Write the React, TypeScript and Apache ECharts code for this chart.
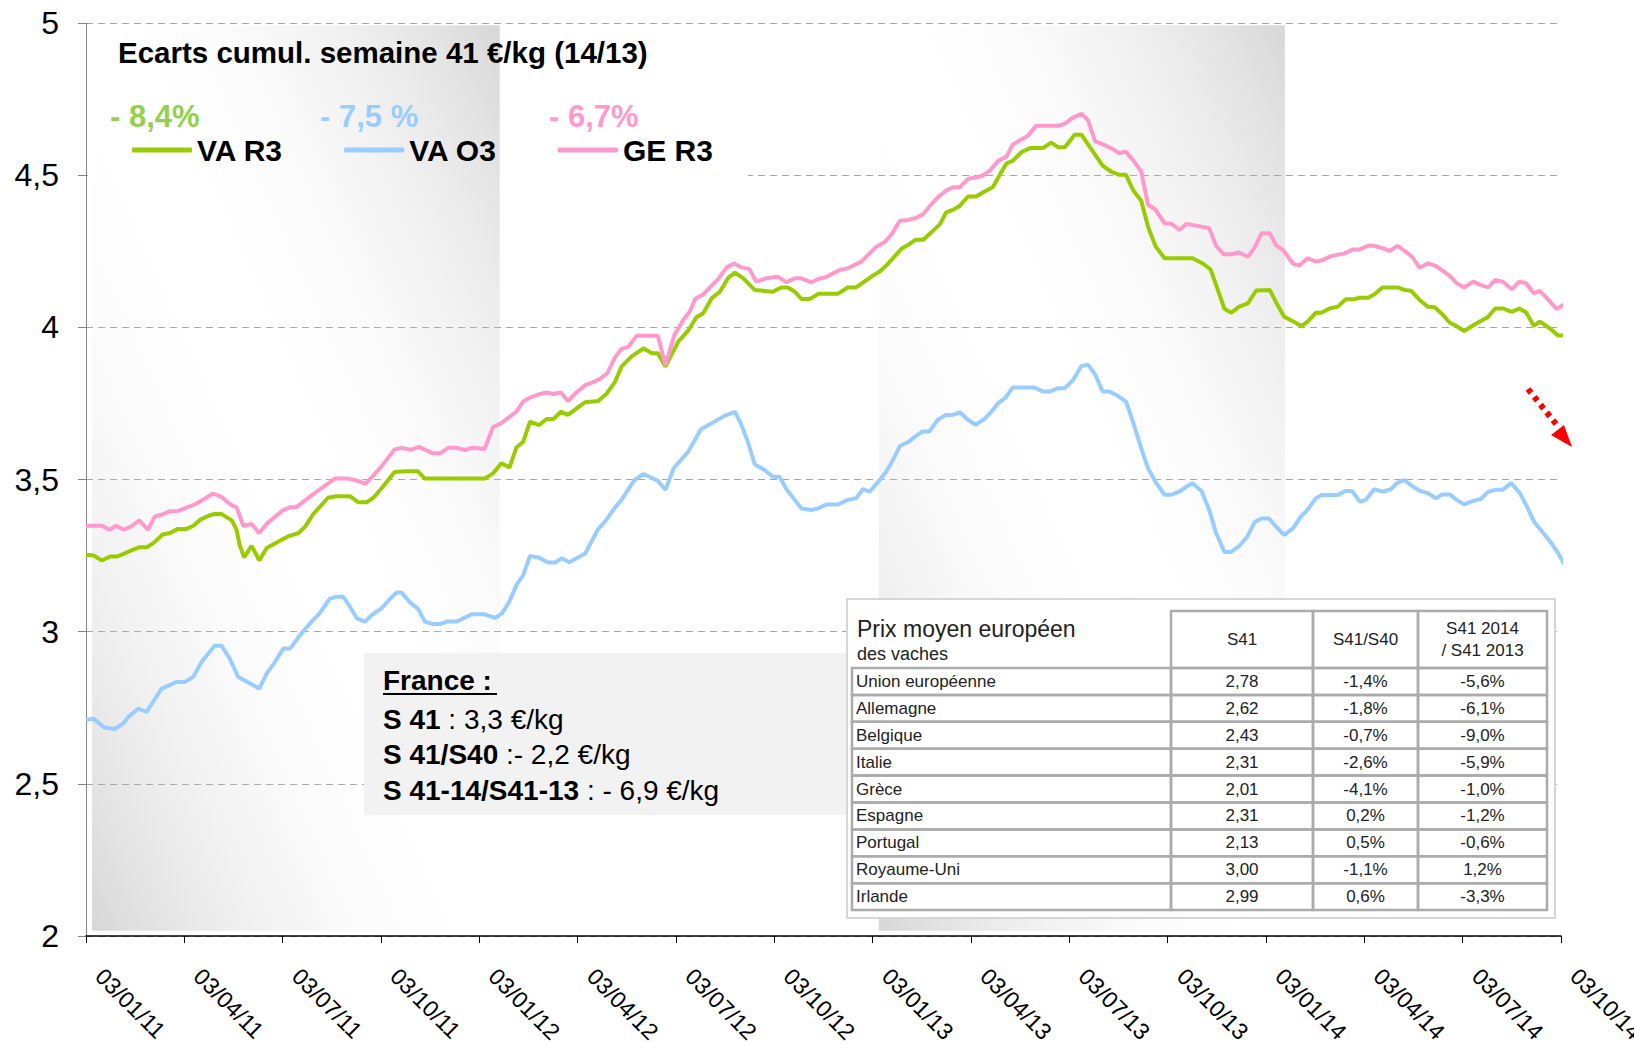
import React, { useEffect, useRef } from "react";
import * as echarts from "echarts";

// ---------- data ----------
const xTickLabels = ["03/01/11","03/04/11","03/07/11","03/10/11","03/01/12","03/04/12","03/07/12","03/10/12","03/01/13","03/04/13","03/07/13","03/10/13","03/01/14","03/04/14","03/07/14","03/10/14"];
const weeksPerTick = 13;
const yTicks = { min: 2, max: 5, step: 0.5 };

const seriesNames = ["VA R3", "VA O3", "GE R3"];
const seriesColors = ["#99CC00", "#99CCFF", "#FF99CC"];
const pctLabels = ["- 8,4%", "- 7,5 %", "- 6,7%"];
const pctColors = ["#92D050", "#99CCFF", "#FF99CC"];

// [week index since 03/01/11, €/kg]
const vaR3: [number, number][] = [[0,3.253],[1,3.25],[2.1,3.234],[3.2,3.247],[4.1,3.247],[4.9,3.255],[6,3.267],[7,3.277],[8,3.277],[8.9,3.291],[10.1,3.319],[11.1,3.324],[12.1,3.337],[13.2,3.337],[14.2,3.348],[15.1,3.368],[16.2,3.381],[17,3.387],[17.9,3.387],[19.3,3.365],[19.9,3.335],[20.3,3.286],[20.9,3.244],[21.9,3.282],[22.9,3.234],[23.9,3.275],[25.2,3.293],[26.7,3.313],[28.1,3.324],[29,3.346],[30,3.385],[32,3.44],[33.1,3.445],[34.9,3.445],[36,3.425],[37.1,3.425],[38,3.44],[39.3,3.478],[40.8,3.525],[42.2,3.527],[43.9,3.527],[44.8,3.503],[52.7,3.503],[53.8,3.52],[54.9,3.553],[56,3.54],[56.9,3.605],[57.8,3.624],[58.7,3.69],[59.9,3.679],[60.9,3.699],[61.8,3.699],[62.8,3.723],[63.7,3.712],[66,3.754],[67.7,3.758],[68.8,3.781],[69.9,3.819],[70.8,3.871],[72.1,3.904],[73.7,3.931],[74.8,3.915],[75.6,3.915],[76.6,3.871],[78.3,3.953],[79.6,3.989],[80.7,4.033],[81.6,4.046],[82.7,4.095],[83.8,4.117],[84.9,4.163],[85.8,4.18],[86.9,4.161],[88.4,4.123],[90.8,4.117],[91.9,4.131],[92.8,4.131],[93.7,4.117],[94.6,4.093],[95.7,4.093],[96.8,4.11],[99.4,4.11],[100.7,4.131],[101.8,4.131],[103.8,4.166],[104.9,4.183],[105.8,4.203],[106.9,4.233],[107.8,4.258],[108.7,4.271],[109.7,4.288],[110.7,4.288],[111.8,4.313],[112.9,4.339],[113.7,4.378],[114.6,4.386],[115.5,4.399],[116.6,4.43],[117.7,4.43],[118.8,4.446],[119.9,4.461],[120.8,4.501],[121.7,4.539],[122.5,4.547],[123.7,4.576],[124.8,4.589],[126.5,4.589],[127.6,4.607],[128.5,4.592],[129.4,4.592],[130.7,4.633],[131.6,4.633],[133.1,4.578],[134.4,4.531],[135.5,4.512],[136.6,4.501],[137.5,4.501],[138.4,4.452],[139.5,4.416],[140.4,4.331],[141.4,4.266],[142.6,4.227],[146.3,4.227],[147.7,4.209],[148.7,4.189],[149.7,4.118],[150.5,4.061],[151.4,4.048],[152.4,4.067],[153.6,4.079],[154.7,4.121],[156.5,4.123],[157.4,4.079],[158.4,4.035],[159.6,4.019],[160.7,4.004],[161.5,4.019],[162.6,4.048],[163.3,4.048],[164.4,4.062],[165.5,4.068],[166.5,4.092],[167.5,4.092],[168.4,4.097],[169.5,4.097],[170.3,4.108],[171.4,4.131],[173.4,4.131],[174.3,4.123],[175.2,4.12],[176.3,4.09],[177.4,4.068],[178.3,4.066],[179.3,4.043],[180.3,4.015],[181.2,4.004],[182.2,3.988],[183.3,4.005],[184.4,4.021],[185.3,4.033],[186.3,4.062],[187.3,4.062],[188.5,4.051],[189.5,4.062],[190.4,4.049],[191.4,4.005],[192.2,4.019],[193.5,3.997],[194.6,3.973],[195.5,3.973]];

const vaO3: [number, number][] = [[0,2.71],[1,2.715],[2.4,2.685],[3.8,2.68],[5,2.7],[5.6,2.72],[6.9,2.747],[8,2.736],[10,2.813],[12,2.835],[13.1,2.835],[14.2,2.852],[15.3,2.901],[17,2.954],[17.9,2.954],[19,2.912],[20.1,2.852],[21.7,2.83],[22.9,2.813],[23.9,2.863],[25,2.901],[26.1,2.945],[27,2.945],[28.5,2.995],[30,3.038],[30.9,3.06],[32.2,3.108],[33.1,3.115],[34,3.115],[34.9,3.082],[35.8,3.044],[36.9,3.033],[37.8,3.055],[39.1,3.077],[40.2,3.108],[41.1,3.129],[41.7,3.129],[42.8,3.097],[43.9,3.075],[44.8,3.033],[45.9,3.025],[46.8,3.025],[47.7,3.033],[49,3.033],[51,3.057],[52.7,3.057],[54.1,3.045],[55,3.06],[56,3.1],[56.9,3.153],[57.8,3.186],[58.7,3.249],[59.9,3.243],[61.1,3.227],[62,3.227],[62.9,3.241],[63.9,3.228],[66,3.257],[67.7,3.337],[68.8,3.367],[69.9,3.407],[70.8,3.433],[72.5,3.498],[73.7,3.518],[75.6,3.496],[76.6,3.466],[77.7,3.537],[79.6,3.591],[81.3,3.665],[82.9,3.687],[84.4,3.709],[85.8,3.722],[86.6,3.682],[87.5,3.624],[88.4,3.55],[89.7,3.531],[90.8,3.509],[91.7,3.509],[92.6,3.468],[93.7,3.433],[94.6,3.405],[95.9,3.4],[96.8,3.405],[97.9,3.418],[99.4,3.418],[100.7,3.433],[101.8,3.438],[102.7,3.468],[103.6,3.46],[104.9,3.497],[105.8,3.526],[106.7,3.565],[107.6,3.61],[108.7,3.623],[109.6,3.641],[110.6,3.658],[111.5,3.658],[112.6,3.696],[113.7,3.712],[114.6,3.712],[115.5,3.721],[116.6,3.696],[117.6,3.68],[118.8,3.699],[119.7,3.723],[120.6,3.751],[121.5,3.767],[122.5,3.802],[125.4,3.802],[126.5,3.789],[127.4,3.789],[128.5,3.8],[129.4,3.8],[130.5,3.827],[131.6,3.873],[132.5,3.877],[133.5,3.841],[134.4,3.789],[135.3,3.789],[136.4,3.775],[137.5,3.756],[138.4,3.69],[139.5,3.603],[140.4,3.537],[141.5,3.488],[142.6,3.45],[143.5,3.45],[144.6,3.461],[145.5,3.477],[146.3,3.488],[147.5,3.461],[148.5,3.4],[149.4,3.324],[150.5,3.262],[151.4,3.262],[152.4,3.28],[153.5,3.311],[154.5,3.36],[155.4,3.372],[156.4,3.372],[157.4,3.343],[158.4,3.318],[159.6,3.34],[160.6,3.378],[161.4,3.398],[162.6,3.438],[163.4,3.449],[165.5,3.449],[166.5,3.462],[167.4,3.462],[168.4,3.427],[169.2,3.433],[170.3,3.468],[171.4,3.46],[172.5,3.468],[173.4,3.49],[174.3,3.498],[175.3,3.479],[176.3,3.463],[177.4,3.455],[178.5,3.438],[179.3,3.451],[180.3,3.451],[181.2,3.433],[182.2,3.418],[183.3,3.429],[184.4,3.436],[185.4,3.46],[186.3,3.466],[187.3,3.466],[188.4,3.488],[189.5,3.458],[190.4,3.416],[191.5,3.359],[192.6,3.326],[193.7,3.292],[194.6,3.259],[195.5,3.219]];

const geR3: [number, number][] = [[0,3.348],[2.1,3.348],[3.1,3.335],[4,3.348],[5,3.335],[6,3.346],[7.05,3.366],[8.2,3.335],[9.1,3.379],[10.1,3.385],[11.1,3.396],[12.1,3.396],[13.2,3.407],[14.4,3.418],[15.5,3.434],[16.8,3.454],[17.9,3.443],[19.3,3.414],[19.9,3.409],[20.8,3.348],[21.9,3.354],[22.9,3.324],[23.9,3.355],[26,3.398],[27,3.409],[27.8,3.409],[30,3.451],[32.9,3.503],[34.7,3.503],[36,3.495],[37,3.486],[39.1,3.544],[40.8,3.599],[41.7,3.604],[43,3.598],[44,3.607],[45.9,3.586],[46.8,3.586],[47.9,3.604],[49,3.604],[50.1,3.597],[51,3.604],[52.7,3.6],[53.8,3.672],[54.9,3.685],[56,3.706],[56.9,3.723],[57.8,3.756],[58.7,3.769],[59.9,3.78],[60.9,3.786],[61.8,3.781],[62.8,3.786],[63.7,3.758],[64.8,3.785],[66,3.81],[67,3.819],[67.9,3.83],[68.9,3.849],[69.9,3.9],[70.8,3.929],[71.7,3.936],[72.8,3.972],[75.6,3.972],[76.6,3.876],[77.8,3.975],[78.9,4.022],[79.8,4.051],[80.6,4.095],[81.6,4.108],[82.5,4.131],[83.6,4.159],[84.7,4.197],[85.7,4.21],[86.6,4.197],[87.7,4.192],[88.6,4.15],[89.9,4.161],[91.5,4.166],[92.6,4.148],[93.7,4.161],[94.6,4.161],[95.9,4.148],[96.8,4.159],[97.9,4.166],[99.6,4.188],[100.7,4.194],[102.5,4.216],[103.6,4.243],[104.5,4.265],[105.6,4.28],[106.6,4.309],[107.6,4.35],[108.7,4.353],[109.8,4.36],[110.7,4.372],[111.5,4.397],[112.6,4.427],[113.7,4.449],[114.6,4.46],[115.5,4.46],[116.6,4.488],[117.7,4.492],[118.6,4.499],[119.5,4.515],[120.6,4.547],[121.7,4.561],[122.5,4.6],[123.7,4.618],[124.5,4.629],[125.6,4.662],[128.5,4.662],[129.4,4.669],[130.5,4.689],[131.6,4.702],[132.5,4.679],[133.4,4.611],[134.4,4.602],[135.8,4.585],[136.6,4.572],[137.4,4.578],[138.4,4.55],[139.5,4.512],[140.4,4.403],[141.3,4.389],[142.6,4.342],[143.5,4.34],[144.6,4.32],[145.5,4.34],[148.5,4.326],[149.4,4.268],[150.4,4.24],[151.4,4.24],[152.4,4.246],[153.6,4.232],[154.5,4.262],[155.4,4.309],[156.5,4.309],[157.4,4.267],[158.2,4.256],[159.6,4.208],[160.4,4.203],[161.5,4.227],[162.6,4.216],[163.5,4.221],[164.6,4.234],[166.4,4.243],[167.5,4.256],[168.4,4.256],[169.5,4.268],[170.3,4.268],[171.4,4.26],[172.4,4.251],[173.4,4.268],[174.3,4.252],[175.3,4.232],[176.3,4.196],[177.4,4.21],[178.4,4.203],[180.3,4.169],[181.2,4.145],[182.2,4.131],[183.4,4.15],[184.4,4.139],[185.4,4.131],[186.3,4.156],[187.3,4.15],[188.5,4.125],[189.5,4.15],[190.4,4.145],[191.4,4.112],[192.2,4.12],[193.3,4.092],[194.4,4.06],[195.5,4.077]];

const shadedPeriods: [number, number][] = [[0.8, 54.7], [104.8, 158.5]];

const titleText = "Ecarts cumul. semaine 41 €/kg (14/13)";
const franceTitle = "France :";
const franceLines: [string, string][] = [["S 41", " : 3,3 €/kg"], ["S 41/S40", " :- 2,2 €/kg"], ["S 41-14/S41-13", " : - 6,9 €/kg"]];

const tableTitle = "Prix moyen européen";
const tableSubtitle = "des vaches";
const tableHeaders = [["S41"], ["S41/S40"], ["S41 2014", "/ S41 2013"]];
const countries = ["Union européenne", "Allemagne", "Belgique", "Italie", "Grèce", "Espagne", "Portugal", "Royaume-Uni", "Irlande"];
const priceS41 = ["2,78", "2,62", "2,43", "2,31", "2,01", "2,31", "2,13", "3,00", "2,99"];
const changeS41S40 = ["-1,4%", "-1,8%", "-0,7%", "-2,6%", "-4,1%", "0,2%", "0,5%", "-1,1%", "0,6%"];
const changeYoY = ["-5,6%", "-6,1%", "-9,0%", "-5,9%", "-1,0%", "-1,2%", "-0,6%", "1,2%", "-3,3%"];

// ---------- layout ----------
const FONT = "'Liberation Sans', Arial, Helvetica, sans-serif";

function buildGraphics(): any[] {
  const g: any[] = [];
  // white legend backing (hides the 4.5 grid line at left)
  g.push({ type: "rect", z: 1, silent: true, shape: { x: 88, y: 27, width: 660, height: 168 }, style: { fill: "#ffffff" } });
  g.push({ type: "text", z: 10, x: 118, y: 52, style: { text: titleText, fontSize: 29.5, fontWeight: "bold", fontFamily: FONT, fill: "#000", verticalAlign: "middle" } });
  const pctX = [110, 320, 549];
  pctLabels.forEach((t, i) => {
    g.push({ type: "text", z: 10, x: pctX[i], y: 116, style: { text: t, fontSize: 31, fontWeight: "bold", fontFamily: FONT, fill: pctColors[i], verticalAlign: "middle" } });
  });

  // France box
  g.push({ type: "rect", z: 10, shape: { x: 364, y: 653, width: 484, height: 162 }, style: { fill: "#F2F2F2" } });
  g.push({ type: "text", z: 11, x: 383, y: 680, style: { text: franceTitle, fontSize: 28, fontWeight: "bold", fontFamily: FONT, fill: "#000", verticalAlign: "middle" } });
  g.push({ type: "line", z: 11, shape: { x1: 383, y1: 694, x2: 497, y2: 694 }, style: { stroke: "#000", lineWidth: 2 } });
  franceLines.forEach(([b, r], i) => {
    g.push({
      type: "text", z: 11, x: 383, y: 719 + i * 35.5,
      style: {
        text: `{b|${b}}{r|${r}}`, verticalAlign: "middle", fill: "#000",
        rich: {
          b: { fontSize: 28, fontWeight: "bold", fontFamily: FONT, fill: "#000" },
          r: { fontSize: 28, fontFamily: FONT, fill: "#000" },
        },
      },
    });
  });

  // table
  g.push({ type: "rect", z: 10, shape: { x: 847, y: 599, width: 708, height: 319 }, style: { fill: "#ffffff", stroke: "#D6D6D6", lineWidth: 2 } });
  g.push({ type: "text", z: 11, x: 857, y: 629, style: { text: tableTitle, fontSize: 23, fontFamily: FONT, fill: "#222", verticalAlign: "middle" } });
  g.push({ type: "text", z: 11, x: 857, y: 654, style: { text: tableSubtitle, fontSize: 18, fontFamily: FONT, fill: "#222", verticalAlign: "middle" } });
  const cols = [852, 1171, 1313, 1418, 1547];
  const headTop = 611, rowTop = 668, rowH = 26.9;
  const cellStyle = { fill: "none", stroke: "#ABABAB", lineWidth: 2.5 };
  for (let c = 1; c < 4; c++) {
    g.push({ type: "rect", z: 11, shape: { x: cols[c], y: headTop, width: cols[c + 1] - cols[c], height: rowTop - headTop }, style: cellStyle });
    const lines = tableHeaders[c - 1];
    const cx = (cols[c] + cols[c + 1]) / 2;
    lines.forEach((t, k) => {
      const cy = lines.length === 1 ? (headTop + rowTop) / 2 : (headTop + rowTop) / 2 + (k - 0.5) * 22;
      g.push({ type: "text", z: 12, x: cx, y: cy, style: { text: t, fontSize: 17, fontFamily: FONT, fill: "#222", align: "center", verticalAlign: "middle" } });
    });
  }
  countries.forEach((name, r) => {
    const y0 = rowTop + r * rowH;
    for (let c = 0; c < 4; c++) {
      g.push({ type: "rect", z: 11, shape: { x: cols[c], y: y0, width: cols[c + 1] - cols[c], height: rowH }, style: cellStyle });
    }
    const cy = y0 + rowH / 2;
    const vals = [priceS41[r], changeS41S40[r], changeYoY[r]];
    g.push({ type: "text", z: 12, x: 856, y: cy, style: { text: name, fontSize: 17, fontFamily: FONT, fill: "#222", verticalAlign: "middle" } });
    vals.forEach((v, k) => {
      g.push({ type: "text", z: 12, x: (cols[k + 1] + cols[k + 2]) / 2, y: cy, style: { text: v, fontSize: 17, fontFamily: FONT, fill: "#222", align: "center", verticalAlign: "middle" } });
    });
  });

  // red dotted arrow
  g.push({ type: "line", z: 12, shape: { x1: 1528, y1: 389, x2: 1556, y2: 424 }, style: { stroke: "#FF0000", lineWidth: 6, lineDash: [5, 5] } });
  g.push({ type: "polygon", z: 12, shape: { points: [[1572, 447], [1551, 435], [1564, 425]] }, style: { fill: "#FF0000" } });
  return g;
}

export default function App() {
  const ref = useRef<HTMLDivElement>(null);
  useEffect(() => {
    if (!ref.current) return;
    const chart = echarts.init(ref.current, undefined, { renderer: "svg" });
    const lineData = [vaR3, vaO3, geR3];
    const option: any = {
      animation: false,
      color: seriesColors,
      grid: { left: 86, right: 73, top: 23, bottom: 108, containLabel: false, outerBoundsMode: "none" },
      legend: {
        left: 127, top: 128, itemWidth: 60, itemHeight: 5, itemGap: 61, icon: "roundRect",
        selectedMode: false, data: seriesNames,
        textStyle: { fontSize: 30, fontWeight: "bold", color: "#000", fontFamily: FONT, lineHeight: 34 },
      },
      xAxis: {
        type: "value", min: 0, max: weeksPerTick * (xTickLabels.length - 1), interval: weeksPerTick,
        axisLine: { show: true, lineStyle: { color: "#000", width: 1.5 } },
        axisTick: { show: true, length: 7, lineStyle: { color: "#000" } },
        splitLine: { show: false },
        axisLabel: {
          rotate: -45, margin: 23, padding: [0, 0, 0, 19], fontSize: 23, fontFamily: FONT, color: "#000",
          formatter: (v: number) => xTickLabels[Math.round(v / weeksPerTick)] ?? "",
        },
      },
      yAxis: {
        type: "value", min: yTicks.min, max: yTicks.max, interval: yTicks.step,
        axisLine: { show: true, lineStyle: { color: "#868686", width: 1 } },
        axisTick: { show: true, length: 8, lineStyle: { color: "#868686" } },
        splitLine: { show: true, lineStyle: { color: "#A6A6A6", width: 1, type: [7, 5] } },
        axisLabel: { margin: 27, fontSize: 32, fontFamily: FONT, color: "#000", formatter: (v: number) => String(v).replace(".", ",") },
      },
      graphic: { elements: buildGraphics() },
      series: [
        {
          type: "line", name: "_shade", data: [], silent: true, z: 2,
          markArea: {
            z: 2, silent: true,
            itemStyle: {
              color: new echarts.graphic.LinearGradient(0, 1, 1, 0, [
                { offset: 0, color: "rgba(150,150,150,0.38)" },
                { offset: 0.5, color: "rgba(255,255,255,0)" },
                { offset: 1, color: "rgba(150,150,150,0.38)" },
              ]),
            },
            data: shadedPeriods.map(([a, b]) => [{ xAxis: a, yAxis: 2.017 }, { xAxis: b, yAxis: 4.993 }]),
          },
        },
        ...seriesNames.map((name, i) => ({
          type: "line", name, data: lineData[i], z: 3, symbol: "none", showSymbol: false, clip: false,
          lineStyle: { color: seriesColors[i], width: 4 }, itemStyle: { color: seriesColors[i] },
        })),
      ],
    };
    chart.setOption(option);
    return () => chart.dispose();
  }, []);
  return <div ref={ref} style={{ position: "fixed", left: 0, top: 0, width: 1634, height: 1044, background: "#fff" }} />;
}
